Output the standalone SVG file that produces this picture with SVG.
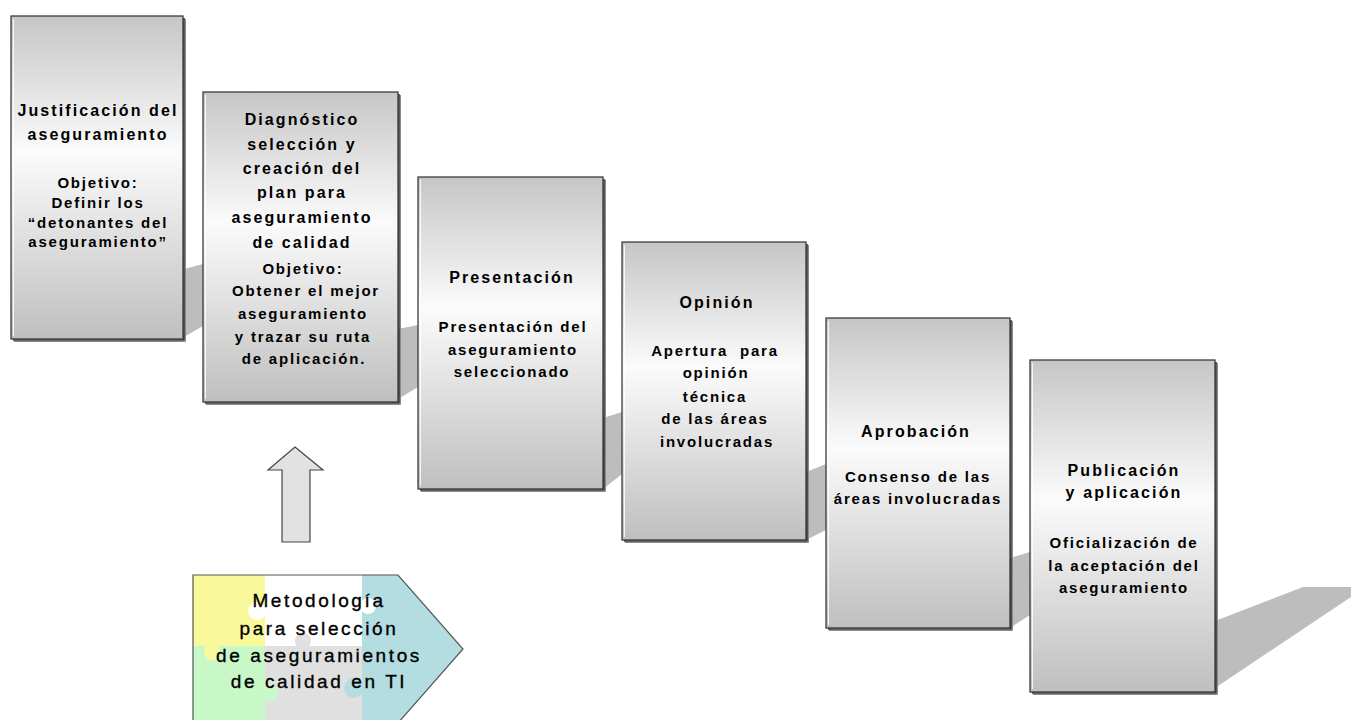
<svg xmlns="http://www.w3.org/2000/svg" width="1351" height="720" viewBox="0 0 1351 720">
<defs>
<linearGradient id="boxg" x1="0" y1="0" x2="0" y2="1">
<stop offset="0" stop-color="#c6c6c6"/>
<stop offset="0.42" stop-color="#fbfbfb"/>
<stop offset="1" stop-color="#bfbfbf"/>
</linearGradient>
<clipPath id="pentClip"><polygon points="193,575 398,575 463,649 398,723 193,723"/></clipPath>
</defs>
<style>
.box{fill:url(#boxg);stroke:#2e2e2e;stroke-width:1.2}
.edge{fill:none;stroke:#333;stroke-width:1.6}
.edge2{fill:none;stroke:#8a8a8a;stroke-width:1}
.hl{stroke:#ffffff;stroke-opacity:0.85;stroke-width:1}
.shadow{fill:#bdbdbd;stroke:none}
.t{font-family:"Liberation Sans",Arial,sans-serif;font-weight:bold;fill:#000;text-anchor:middle;font-size:16px;letter-spacing:2.1px}
.b{font-family:"Liberation Sans",Arial,sans-serif;font-weight:bold;fill:#000;text-anchor:middle;font-size:15px;letter-spacing:1.8px}
.m{font-family:"Liberation Sans",Arial,sans-serif;fill:#000;text-anchor:middle;font-size:19px;letter-spacing:2.6px;stroke:#000;stroke-width:0.35}
.arrow{fill:#e2e2e2;stroke:#444;stroke-width:1.2}
</style>
<rect width="1351" height="720" fill="#ffffff"/>
<g id="connectors">
<polygon class="shadow" points="184,269 203,264 203,326 184,337"/>
<polygon class="shadow" points="398,329 418,325 418,387 398,399"/>
<polygon class="shadow" points="603,418 622,412 622,474 603,489"/>
<polygon class="shadow" points="806,472 826,464 826,530 806,540"/>
<polygon class="shadow" points="1010,558 1030,552 1030,615 1010,628"/>
<polygon class="shadow" points="1215,621 1303,587 1351,587 1351,597 1215,688"/>
</g>
<g id="n1">
<rect class="box" x="11" y="16" width="172" height="323"/>
<line class="hl" x1="13.5" y1="19" x2="13.5" y2="336"/>
<path class="edge" d="M184 18 V340 H13"/>
<path class="edge2" d="M185.5 19 V341.5 H14"/>
<text class="t" x="98" y="116">Justificación del</text>
<text class="t" x="98" y="140">aseguramiento</text>
<text class="b" x="98" y="188">Objetivo:</text>
<text class="b" x="98" y="208">Definir los</text>
<text class="b" x="98" y="228">“detonantes del</text>
<text class="b" x="98" y="247">aseguramiento”</text>
</g>
<g id="n2">
<rect class="box" x="203" y="92" width="195" height="310"/>
<line class="hl" x1="205.5" y1="95" x2="205.5" y2="399"/>
<path class="edge" d="M399 94 V403 H205"/>
<path class="edge2" d="M400.5 95 V404.5 H206"/>
<text class="t" x="302" y="125">Diagnóstico</text>
<text class="t" x="302" y="150">selección y</text>
<text class="t" x="302" y="174">creación del</text>
<text class="t" x="302" y="198">plan para</text>
<text class="t" x="302" y="223">aseguramiento</text>
<text class="t" x="302" y="248">de calidad</text>
<text class="b" x="303" y="274">Objetivo:</text>
<text class="b" x="306" y="296">Obtener el mejor</text>
<text class="b" x="303" y="319">aseguramiento</text>
<text class="b" x="303" y="342">y trazar su ruta</text>
<text class="b" x="304" y="364">de aplicación.</text>
</g>
<g id="n3">
<rect class="box" x="418" y="177" width="185" height="312"/>
<line class="hl" x1="420.5" y1="180" x2="420.5" y2="486"/>
<path class="edge" d="M604 179 V490 H420"/>
<path class="edge2" d="M605.5 180 V491.5 H421"/>
<text class="t" x="512" y="283">Presentación</text>
<text class="b" x="513" y="332">Presentación del</text>
<text class="b" x="513" y="355">aseguramiento</text>
<text class="b" x="512" y="377">seleccionado</text>
</g>
<g id="n4">
<rect class="box" x="622" y="242" width="184" height="298"/>
<line class="hl" x1="624.5" y1="245" x2="624.5" y2="537"/>
<path class="edge" d="M807 244 V541 H624"/>
<path class="edge2" d="M808.5 245 V542.5 H625"/>
<text class="t" x="717" y="308">Opinión</text>
<text class="b" x="715" y="356">Apertura&#160; para</text>
<text class="b" x="716" y="378">opinión</text>
<text class="b" x="715" y="402">técnica</text>
<text class="b" x="715" y="424">de las áreas</text>
<text class="b" x="717" y="447">involucradas</text>
</g>
<g id="n5">
<rect class="box" x="826" y="318" width="184" height="310"/>
<line class="hl" x1="828.5" y1="321" x2="828.5" y2="625"/>
<path class="edge" d="M1011 320 V629 H828"/>
<path class="edge2" d="M1012.5 321 V630.5 H829"/>
<text class="t" x="916" y="437">Aprobación</text>
<text class="b" x="918" y="482">Consenso de las</text>
<text class="b" x="918" y="504">áreas involucradas</text>
</g>
<g id="n6">
<rect class="box" x="1030" y="360" width="185" height="332"/>
<line class="hl" x1="1032.5" y1="363" x2="1032.5" y2="689"/>
<path class="edge" d="M1216 362 V693 H1032"/>
<path class="edge2" d="M1217.5 363 V694.5 H1033"/>
<text class="t" x="1124" y="476">Publicación</text>
<text class="t" x="1124" y="498">y aplicación</text>
<text class="b" x="1124" y="548">Oficialización de</text>
<text class="b" x="1124" y="571">la aceptación del</text>
<text class="b" x="1124" y="593">aseguramiento</text>
</g>
<g id="up-arrow">
<polygon class="arrow" points="295,447 323,470 310,470 310,542 282,542 282,470 268,470"/>
</g>
<g id="metodologia">
<g clip-path="url(#pentClip)">
<rect x="193" y="575" width="72" height="71" fill="#f9f99c"/>
<rect x="265" y="575" width="97" height="71" fill="#ffffff"/>
<rect x="362" y="575" width="110" height="150" fill="#b3dde0"/>
<rect x="193" y="646" width="72" height="80" fill="#c8f8c8"/>
<rect x="265" y="646" width="97" height="80" fill="#e0e0e0"/>
<circle cx="212" cy="652" r="8" fill="#f9f99c"/>
<circle cx="257" cy="611" r="9" fill="#ffffff"/>
<circle cx="303" cy="641" r="8" fill="#e0e0e0"/>
<circle cx="354" cy="688" r="10" fill="#b3dde0"/>
<circle cx="269" cy="693" r="9" fill="#c8f8c8"/>
<circle cx="368" cy="606" r="8" fill="#ffffff"/>
</g>
<polygon points="193,575 398,575 463,649 398,723 193,723" fill="none" stroke="#555" stroke-width="1.2"/>
<text class="m" x="319" y="607">Metodología</text>
<text class="m" x="319" y="635">para selección</text>
<text class="m" x="319" y="662">de aseguramientos</text>
<text class="m" x="319" y="688">de calidad en TI</text>
</g>
</svg>
